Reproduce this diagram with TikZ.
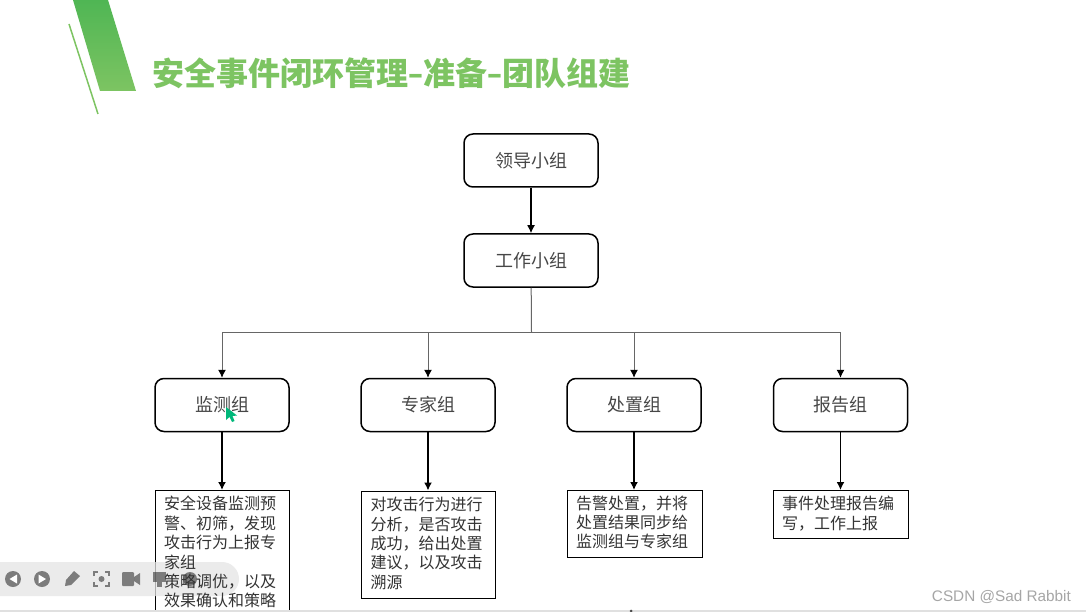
\documentclass[tikz,border=0pt]{standalone}
\usepackage{fontspec}
\usepackage{graphicx}
\setmainfont{Noto Sans CJK SC}
\newfontfamily\latinwm{Liberation Sans}
\usetikzlibrary{arrows.meta,calc}
\definecolor{titlegreen}{HTML}{7DC462}
\definecolor{topgreen}{HTML}{4FB654}
\newcommand{\titledash}{\scalebox{.85}[1]{–}}
\tikzset{
  x=1pt,y=-1pt,
  round box/.style={draw=black,line width=1.5pt,rounded corners=9pt,fill=white,minimum width=134pt,minimum height=53pt,font=\fontsize{18}{21}\selectfont,text=black!72,inner sep=0pt},
  note box/.style={draw=black,line width=1pt,fill=white,anchor=north west,inner sep=0pt},
  note text/.style={anchor=north west,font=\fontsize{16}{19.4}\selectfont,text=black!80,align=left,inner sep=0pt},
  heavy arrow/.style={draw=black,line width=1.5pt,-{Latex[length=8pt,width=8pt]}},
  thin arrow/.style={draw=black!60,line width=1pt,-{Latex[length=8pt,width=8pt,color=black]}},
  thin line/.style={draw=black!60,line width=1pt}
}
\begin{document}
\begin{tikzpicture}
\useasboundingbox (0,0) rectangle (1086,612);
\fill[white] (0,0) rectangle (1086,612);
% decoration
\shade[top color=topgreen,bottom color=titlegreen] (73,0) -- (108,0) -- (136,91) -- (100,91) -- cycle;
\draw[titlegreen,line width=1.5pt] (69,24) -- (98,114);
\node[anchor=west,text=titlegreen,inner sep=0pt,font=\fontsize{32}{36}\selectfont\bfseries] (title) at (152,73) {安全事件闭环管理\titledash 准备\titledash 团队组建};
% boxes
\node[round box] (lead) at (531,160.5) {领导小组};
\node[round box] (work) at (531,260.5) {工作小组};
\node[round box] (mon) at (222,405) {监测组};
\node[round box] (exp) at (428,405) {专家组};
\node[round box] (dis) at (634,405) {处置组};
\node[round box] (rep) at (840.5,405) {报告组};
\coordinate (bus) at (531.5,332.5);
% notes
\node[note box,minimum width=134pt,minimum height=125pt] (n1) at (155,490) {};
\node[note box,minimum width=134pt,minimum height=107pt] (n2) at (361,490.5) {};
\node[note box,minimum width=135pt,minimum height=67pt] (n3) at (567,490) {};
\node[note box,minimum width=135pt,minimum height=48pt] (n4) at (773,490) {};
% connectors
\draw[heavy arrow] (lead) -- (work);
\draw[thin line] (work) -- (bus);
\draw[thin arrow] (bus) -| (mon);
\draw[thin arrow] (bus) -| (exp);
\draw[thin arrow] (bus) -| (dis);
\draw[thin arrow] (bus) -| (rep);
\draw[heavy arrow] (mon) -- (mon.south |- n1.north);
\draw[heavy arrow] (exp) -- (exp.south |- n2.north);
\draw[heavy arrow] (dis) -- (dis.south |- n3.north);
\draw[heavy arrow] (rep) -- (rep.south |- n4.north);
% bottom strip and player bar
\fill[black!12] (0,609.5) rectangle (1086,612);
\fill[black!70] (631,611) circle (1.5pt);
\fill[black!10,opacity=.75] (0,562) -- (222,562) arc[start angle=90,end angle=-90,radius=17pt] -- (0,596) -- cycle;
\begin{scope}[opacity=.6]
\fill[black!80] (13,579) circle (8pt);
\fill[black!80] (42,579) circle (8pt);
\fill[black!80] (65,586) -- (66,580) -- (74,571) -- (80,576) -- (71,585) -- cycle;
\draw[black!80,line width=1.5pt] (94,576) -- (94,572) -- (98,572) (105,572) -- (109,572) -- (109,576) (109,582) -- (109,586) -- (105,586) (98,586) -- (94,586) -- (94,582);
\fill[black!80] (101.5,579) circle (3pt);
\fill[black!80,rounded corners=1pt] (122,572) rectangle (134,586);
\fill[black!80] (134,577) -- (140,573) -- (140,585) -- (134,581) -- cycle;
\fill[black!80] (153,572) rectangle (166,582);
\fill[black!80] (157,582) rectangle (162,587);
\fill[black!80] (190,579) circle (7pt);
\end{scope}
\fill[white] (17,574.5) -- (17,583.5) -- (9.5,579) -- cycle;
\fill[white] (38.5,574.5) -- (38.5,583.5) -- (46,579) -- cycle;
% note texts, above the player bar
\node[note text] (t1) at (164,496) {安全设备监测预\\警、初筛，发现\\攻击行为上报专\\家组\\策略调优，以及\\效果确认和策略};
\node[note text] (t2) at (370.5,497) {对攻击行为进行\\分析，是否攻击\\成功，给出处置\\建议，以及攻击\\溯源};
\node[note text] (t3) at (576,495.5) {告警处置，并将\\处置结果同步给\\监测组与专家组};
\node[note text] (t4) at (782,496) {事件处理报告编\\写，工作上报};
% cursor
\fill[teal!70!green!80!cyan] (226,407) -- (226,420) -- (229.5,417) -- (232,422) -- (234.5,421) -- (232.5,416) -- (237,415.5) -- cycle;
% watermark
\node[anchor=east,text=black!35,inner sep=0pt,font=\latinwm\fontsize{15.3}{17}\selectfont] (wm) at (1071,597) {CSDN @Sad Rabbit};
\end{tikzpicture}
\end{document}
